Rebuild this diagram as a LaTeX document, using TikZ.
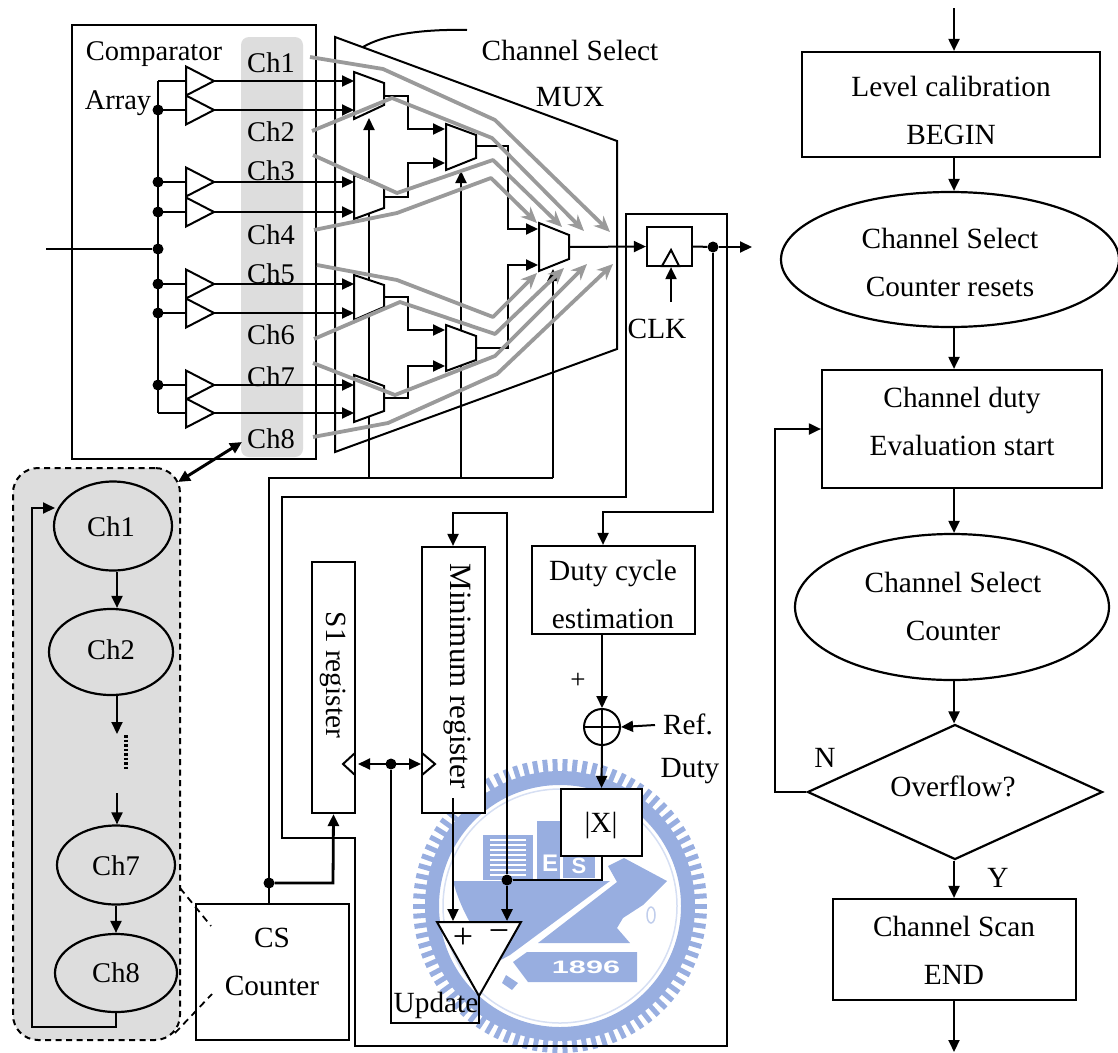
\documentclass[tikz,border=0pt]{standalone}
\usepackage{fontspec}
\setmainfont{Liberation Serif}
\newfontfamily\sealfont{Liberation Sans}
\usetikzlibrary{arrows.meta,shapes.geometric}
\definecolor{sealblue}{HTML}{98AEE0}
\definecolor{bandgray}{HTML}{DDDDDD}
\definecolor{routegray}{HTML}{9A9A9A}
\tikzset{
  >={Triangle[length=12pt,width=11pt]},
  wire/.style={draw=black,line width=2pt},
  boldwire/.style={draw=black,line width=2.8pt},
  boxnode/.style={draw=black,fill=white,line width=2.2pt,inner sep=0pt,rectangle},
  roundnode/.style={draw=black,line width=2.2pt,inner sep=0pt,ellipse},
  gatenode/.style={draw=black,fill=white,line width=2pt,line join=miter},
  txt/.style={inner sep=0pt,align=center,font=\fontsize{29.3}{48}\selectfont},
  chtxt/.style={inner sep=0pt,font=\fontsize{28.5}{34}\selectfont},
  jdot/.style={circle,fill=black,inner sep=0pt,minimum size=11pt},
  route/.style={draw=routegray,line width=3.8pt,line join=round,-{Stealth[length=16pt,width=14pt]}},
}
\begin{document}
\begin{tikzpicture}[x=1pt,y=-1pt]
% 1118 x 1052 px, one unit is one pixel
\useasboundingbox (0,0) rectangle (1118,1052);
% seal behind the drawing
\foreach \a in {0,4,...,356} \draw[sealblue,line width=5pt] (560,906) ++(\a:130) -- ++(\a:17);
\draw[sealblue,line width=14pt] (560,906) circle[radius=128];
\draw[sealblue!40,line width=1.5pt] (560,906) circle[radius=117];
\fill[sealblue] (483,835) rectangle (533,880);
\foreach \y in {840,845,...,875} \draw[white,line width=2.4pt] (490,\y) -- (526,\y);
\fill[sealblue] (537,821) rectangle (560,880);
\fill[sealblue] (563,855) rectangle (595,878);
\fill[sealblue] (453,881) -- (610,881) -- (510,955) -- (497,962) .. controls (480,940) and (462,915) .. (453,881) -- cycle;
\fill[sealblue] (624,858) -- (667,881) -- (643,905) -- (623,918) -- (617,928) -- (630,943) -- (538,943) -- (617,882) -- (608,866) -- cycle;
\fill[sealblue] (527,952) -- (637,952) -- (637,982) -- (528,982) -- (513,962) -- cycle;
\fill[sealblue] (506,975) -- (518,983) -- (512,990) -- (502,983) -- cycle;
\draw[sealblue!60,line width=1.5pt] (651,915) ellipse[x radius=4,y radius=8];
\node[inner sep=0pt,text=white,font=\sealfont\bfseries\fontsize{24}{24}\selectfont] (sealE) at (550,863) {E};
\node[inner sep=0pt,text=white,font=\sealfont\bfseries\fontsize{22}{22}\selectfont] (sealS) at (579,866) {S};
\node[inner sep=0pt,text=white,font=\sealfont\bfseries\fontsize{18}{18}\selectfont] (sealyear) at (586,967) {\scalebox{1.7}[1]{1896}};
% comparator array
\node[boxnode,minimum width=244pt,minimum height=434pt] (array) at (194,242) {};
\node[fill=bandgray,rounded corners=8pt,inner sep=0pt,minimum width=62pt,minimum height=420pt] (band) at (272,247) {};
\node[chtxt] (arraya) at (154,54) {Comparator};
\node[chtxt] (arrayb) at (118,103) {Array};
\foreach \i/\yy in {1/63,2/132,3/171,4/235,5/274,6/335,7/377,8/439}
  \node[chtxt] (ch\i) at (271,\yy) {Ch\i};
\draw[line width=2pt] (335,37) -- (617,141) -- (617,349) -- (335,452) -- cycle;
\coordinate (muxlead) at (363,47);
\coordinate (muxtext) at (467,30);
\draw[line width=2pt] (muxlead) .. controls (385,34) and (425,29) .. (muxtext);
\node[txt] (muxa) at (570,50) {Channel Select};
\node[txt] (muxb) at (570,97) {MUX};
% comparators and first stage inputs
\foreach \i/\yy in {1/81,2/110,3/182,4/212,5/284,6/313,7/385,8/413} {
  \coordinate (bus\i) at (158,\yy);
  \coordinate (cin\i) at (186,\yy);
  \coordinate (cmp\i) at (214,\yy);
  \coordinate (sel\i) at (354,\yy);
  \draw[wire] (bus\i) -- (cin\i);
  \draw[gatenode] (186,\yy-14.5) -- (214,\yy) -- (186,\yy+14.5) -- cycle;
  \draw[wire,->] (cmp\i) -- (sel\i);
}
\draw[wire] (bus1) -- (bus8);
\foreach \i in {2,...,7} \node[jdot] (dot\i) at (bus\i) {};
\node[jdot] (dotin) at (158,249) {};
\coordinate (infeed) at (46,249);
\draw[wire] (infeed) -- (dotin);
% select lines under the MUX cells
\coordinate (csfeed) at (269,478);
\coordinate (selend) at (553,478);
\coordinate (selB) at (461,478);
\coordinate (selA) at (369,478);
\coordinate (selAup) at (369,118);
\coordinate (selBup) at (461,171);
\coordinate (selCup) at (553,269);
\draw[wire,->] (selA) -- (selAup);
\draw[wire,->] (selB) -- (selBup);
\draw[wire,->] (selend) -- (selCup);
% MUX cells
\draw[gatenode] (354,72) -- (384,83) -- (384,105) -- (354,119) -- cycle;
\draw[gatenode] (354,175) -- (384,187) -- (384,208) -- (354,219) -- cycle;
\draw[gatenode] (354,275) -- (384,285) -- (384,307) -- (354,320) -- cycle;
\draw[gatenode] (354,375) -- (384,386) -- (384,411) -- (354,422) -- cycle;
\draw[gatenode] (446,124) -- (476,135) -- (476,158) -- (446,170) -- cycle;
\draw[gatenode] (446,325) -- (476,336) -- (476,360) -- (446,371) -- cycle;
\draw[gatenode] (539,223) -- (569,235) -- (569,259) -- (539,271) -- cycle;
\foreach \n/\ya/\yb/\yc in {a/96/129/129,b/197/163/163,c/297/330/330,d/398/366/366}
  \draw[wire,->] (384,\ya) -- (408,\ya) -- (408,\yb) -- (445,\yc);
\coordinate (muxAout) at (476,146);
\coordinate (muxBout) at (476,348);
\coordinate (muxAin) at (538,229);
\coordinate (muxBin) at (538,265);
\draw[wire,->] (muxAout) -| (508,190) |- (muxAin);
\draw[wire,->] (muxBout) -| (508,300) |- (muxBin);
% flip-flop
\node[boxnode,minimum width=45pt,minimum height=39pt] (dff) at (669.5,246.5) {};
\draw[gatenode] (662,266) -- (671,250) -- (679,266) -- cycle;
\coordinate (muxout) at (569,247);
\draw[wire,->] (muxout) -- (dff.west);
\node[jdot] (dotq) at (713,247) {};
\coordinate (qout) at (752,247);
\draw[wire] (dff.east) -- (dotq);
\draw[wire,->] (dotq) -- (qout);
\node[txt] (clk) at (657,329) {CLK};
\coordinate (clkin) at (671,302);
\draw[wire,->] (clkin) -- (dff.south -| clkin);
% routes through the MUX
\draw[route] ([shift={(39,-6)}]ch1.center) -- (383,69) -- (495,120) -- (610,232);
\draw[route] ([shift={(41,-1)}]ch2.center) -- (392,98) -- (492,138) -- (584,231);
\draw[route] ([shift={(42,-16)}]ch3.center) -- (397,193) -- (493,160) -- (562,227);
\draw[route] ([shift={(43,-5)}]ch4.center) -- (397,213) -- (491,178) -- (537,223);
\draw[route] ([shift={(46,-9)}]ch5.center) -- (397,280) -- (493,317) -- (537,273);
\draw[route] ([shift={(43,4)}]ch6.center) -- (400,302) -- (495,334) -- (564,268);
\draw[route] ([shift={(42,-14)}]ch7.center) -- (395,395) -- (495,356) -- (587,264);
\draw[route] ([shift={(42,-2)}]ch8.center) -- (388,423) -- (497,374) -- (613,264);
% scan ring
\node[draw=black,fill=bandgray,dashed,dash pattern=on 6pt off 4.5pt,line width=2pt,rounded corners=25pt,inner sep=0pt,minimum width=167pt,minimum height=572pt] (ring) at (96.5,754) {};
\coordinate (bandlink) at (242,442);
\coordinate (ringlink) at (178,482);
\draw[boldwire,line width=3pt,<->] (bandlink) -- (ringlink);
\node[roundnode,minimum width=118pt,minimum height=89pt] (ring1) at (113,526) {};
\node[roundnode,minimum width=124pt,minimum height=86pt] (ring2) at (111,652) {};
\node[roundnode,minimum width=118pt,minimum height=79pt] (ring7) at (116,865) {};
\node[roundnode,minimum width=122pt,minimum height=78pt] (ring8) at (116,973) {};
\foreach \c/\xx/\yy in {1/111/527,2/111/650,7/116/866,8/116/973}
  \node[chtxt] (ringt\c) at (\xx,\yy) {Ch\c};
\coordinate (gapa) at (117,734);
\coordinate (gapb) at (117,793);
\coordinate (dota) at (126,735);
\coordinate (dotb) at (126,769);
\draw[wire,->] (ring1.south -| gapa) -- (ring2.north -| gapa);
\draw[wire,->] (ring2.south -| gapa) -- (gapa);
\draw[line width=4pt,dash pattern=on 2.5pt off 2pt] (dota) -- (dotb);
\draw[wire,->] (gapb) -- (ring7.north -| gapb);
\draw[wire,->] (ring7.south) -- (ring8.north);
\coordinate (ringback) at (32,1027);
\coordinate (ringtop) at (32,508);
\coordinate (ringin) at (55,508);
\draw[wire,->] (ring8.south) -- (116,1027) -- (ringback) -- (ringtop) -- (ringin);
% counter and registers
\node[boxnode,minimum width=153pt,minimum height=136pt] (cscnt) at (272.5,972) {};
\node[txt] (cscntt) at (272,962) {CS\\Counter};
\draw[line width=1.8pt,dashed,dash pattern=on 7pt off 5pt] (180,888) -- (211,926);
\draw[line width=1.8pt,dashed,dash pattern=on 7pt off 5pt] (175,1033) -- (212,994);
\draw[line width=2pt] (282,497) -- (626,497) -- (626,214) -- (727,214) -- (727,1046) -- (355,1046) -- (355,838) -- (282,838) -- cycle;
\node[boxnode,minimum width=43pt,minimum height=251pt] (sreg) at (333.5,687.5) {};
\node[txt,rotate=-90] (sregt) at (333,675) {S1 register};
\node[boxnode,minimum width=63pt,minimum height=266pt] (mreg) at (453.5,680) {};
\node[txt,rotate=-90,font=\fontsize{31}{34}\selectfont] (mregt) at (457,676) {Minimum register};
\draw[boldwire] (cscnt.north -| csfeed) -- (csfeed) -- (selend);
\node[jdot] (dotcs) at (269,883) {};
\coordinate (csup) at (333,883);
\draw[boldwire,->] (dotcs) -- (csup) -- (sreg.south);
\draw[gatenode,fill=none] (355,753) -- (343,764) -- (355,775);
\draw[gatenode,fill=none] (422,753) -- (435,764) -- (422,775);
\coordinate (portS) at (358,764);
\coordinate (portM) at (421,764);
\draw[wire,<->] (portS) -- (portM);
\node[jdot] (dotport) at (391,764) {};
% duty path
\node[boxnode,minimum width=163pt,minimum height=88pt] (dutyest) at (613.5,590) {};
\node[txt] (dutyestt) at (613,594) {Duty cycle\\estimation};
\coordinate (dutyin) at (603,512);
\draw[wire,->] (dotq) |- (dutyin) -- (dutyest.north -| dutyin);
\node[draw=black,line width=2pt,circle,inner sep=0pt,minimum size=36pt] (summer) at (602,727) {};
\draw[line width=2pt] (summer.north) -- (summer.south) (summer.west) -- (summer.east);
\coordinate (sumin) at (602,634);
\draw[wire,->] (sumin) -- (summer.north);
\node[txt,font=\fontsize{27}{27}\selectfont] (plus) at (578,681) {+};
\node[txt] (refa) at (688,724) {Ref.};
\node[txt] (refb) at (690,771) {Duty};
\coordinate (refin) at (655,725);
\draw[wire,->] (refin) -- (summer.east);
\node[boxnode,minimum width=81pt,minimum height=67pt] (absval) at (601.5,822.5) {};
\node[txt] (absvalt) at (601,825) {|X|};
\draw[wire,->] (summer.south) -- (absval.north);
% subtractor
\draw[gatenode] (437,922) coordinate (subL) -- (521,922) coordinate (subR) -- (479,996) coordinate (subtip) -- cycle;
\node[txt,font=\fontsize{36}{36}\selectfont] (subplus) at (463,938) {+};
\node[txt,font=\fontsize{36}{36}\selectfont] (subminus) at (499,936) {\char"2212};
\coordinate (minout) at (453,798);
\coordinate (minarrow) at (453,921);
\coordinate (difarrow) at (507,921);
\coordinate (minback) at (507,513);
\coordinate (minbacka) at (453,513);
\node[jdot] (dotabs) at (507,880) {};
\draw[wire,->] (minout) -- (minarrow);
\draw[boldwire,->] (dotabs) -- (difarrow);
\draw[wire] (absval.south) |- (dotabs);
\draw[wire,->] (dotabs) -- (minback) -- (minbacka) -- (mreg.north -| minbacka);
% update loop
\coordinate (updatea) at (479,1023);
\coordinate (updateb) at (391,1023);
\draw[wire] (subtip) -- (updatea) -- (updateb) -- (dotport);
\node[txt] (updatet) at (436,1005) {Update};
% flow chart
\coordinate (flowtop) at (954,8);
\node[boxnode,minimum width=298pt,minimum height=105pt] (lvl) at (951,104.5) {};
\node[txt] (lvlt) at (951,110) {Level calibration\\BEGIN};
\node[roundnode,minimum width=338pt,minimum height=135pt] (csrst) at (950,259.5) {};
\node[txt] (csrstt) at (950,262) {Channel Select\\Counter resets};
\node[boxnode,minimum width=280pt,minimum height=118pt] (evl) at (962,429) {};
\node[txt] (evlt) at (962,421) {Channel duty\\Evaluation start};
\node[roundnode,minimum width=314pt,minimum height=146pt] (cscan) at (952,607) {};
\node[txt] (cscant) at (953,606) {Channel Select\\Counter};
\node[draw=black,fill=white,line width=2.2pt,diamond,inner sep=0pt,aspect=2.185,minimum width=295pt,minimum height=135pt] (ovf) at (955,792) {};
\node[txt] (ovft) at (953,786) {Overflow?};
\node[boxnode,minimum width=243pt,minimum height=101pt] (scanend) at (954.5,949.5) {};
\node[txt] (scanendt) at (954,950) {Channel Scan\\END};
\coordinate (flowend) at (954,1052);
\coordinate (nback) at (775,429);
\draw[wire,->] (flowtop) -- (lvl.north -| flowtop);
\draw[wire,->] (lvl.south -| flowtop) -- (csrst.north -| flowtop);
\draw[wire,->] (csrst.south -| flowtop) -- (evl.north -| flowtop);
\draw[wire,->] (evl.south -| flowtop) -- (cscan.north -| flowtop);
\draw[wire,->] (cscan.south -| flowtop) -- (ovf.north -| flowtop);
\draw[wire,->] (ovf.south -| flowtop) -- (scanend.north -| flowtop);
\draw[wire,->] (scanend.south -| flowtop) -- (flowend);
\draw[wire,->] (ovf.west) -| (nback) -- (evl.west);
\node[txt] (labN) at (825,758) {N};
\node[txt] (labY) at (998,878) {Y};
\end{tikzpicture}
\end{document}
